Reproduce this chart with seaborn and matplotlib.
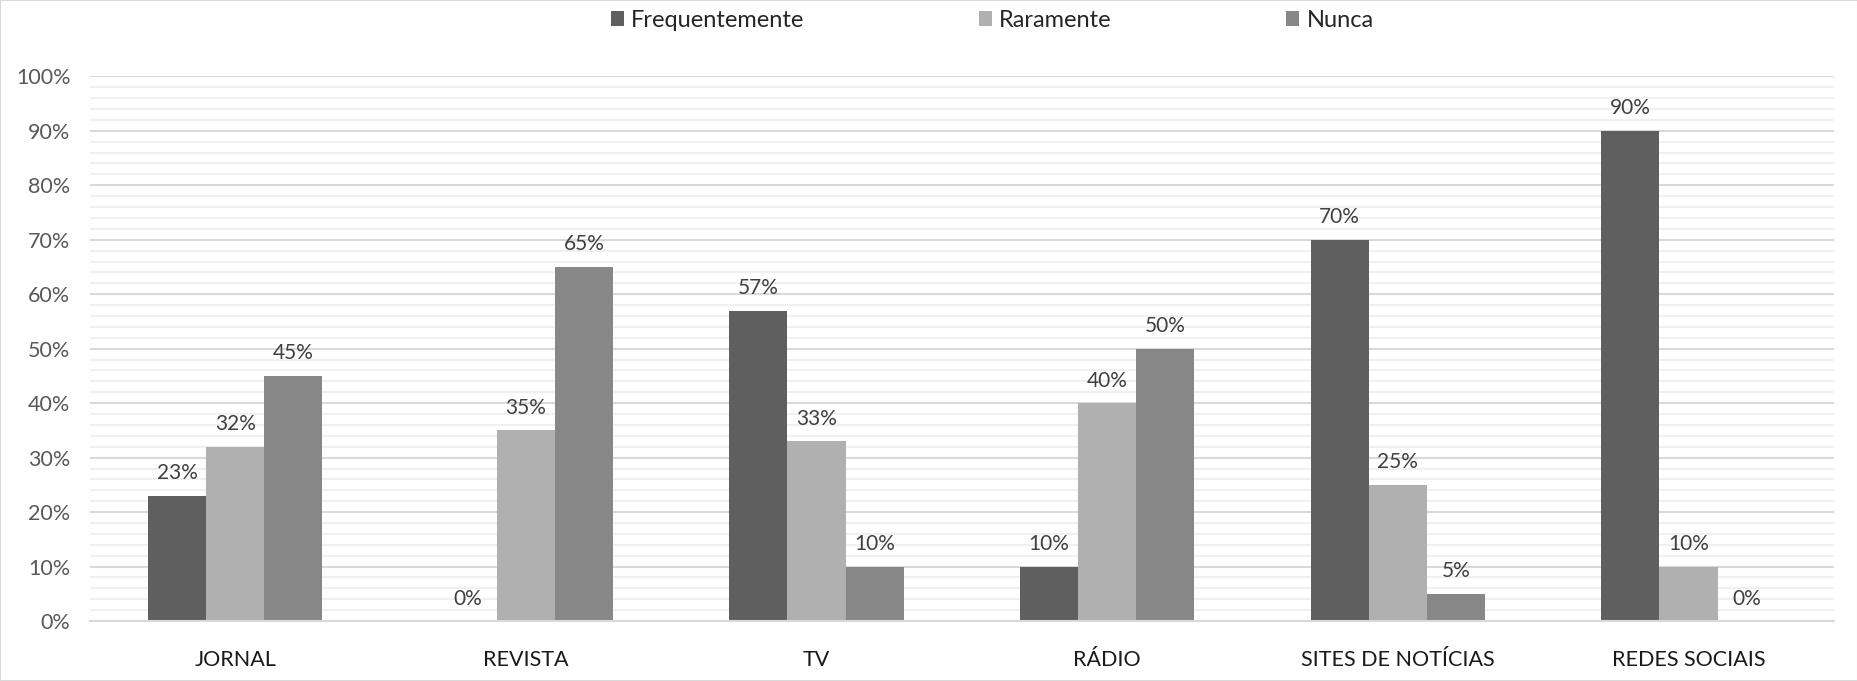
import matplotlib
matplotlib.use("Agg")
import matplotlib.pyplot as plt
from matplotlib.patches import Rectangle
from matplotlib.ticker import MultipleLocator, PercentFormatter
import seaborn as sns
import pandas as pd

categories = ["JORNAL", "REVISTA", "TV", "RÁDIO", "SITES DE NOTÍCIAS", "REDES SOCIAIS"]
series = ["Frequentemente", "Raramente", "Nunca"]
frequentemente = [0.23, 0.00, 0.57, 0.10, 0.70, 0.90]
raramente = [0.32, 0.35, 0.33, 0.40, 0.25, 0.10]
nunca = [0.45, 0.65, 0.10, 0.50, 0.05, 0.00]
colors = ["#5f5f5f", "#b0b0b0", "#878787"]

rows = []
for name, vals in zip(series, [frequentemente, raramente, nunca]):
    for c, v in zip(categories, vals):
        rows.append({"cat": c, "serie": name, "val": v})
df = pd.DataFrame(rows)

sns.set_theme(style="white")
plt.rcParams["font.family"] = ["Lato", "DejaVu Sans"]

fig = plt.figure(figsize=(18.58, 6.81), dpi=100)
ax = fig.add_axes([0.0484, 0.088, 0.9386, 0.800])

sns.barplot(data=df, x="cat", y="val", hue="serie", order=categories,
            hue_order=series, palette=colors, width=0.6, saturation=1,
            edgecolor="none", linewidth=0, ax=ax, legend=False)

for cont in ax.containers:
    ax.bar_label(cont, labels=[f"{v*100:.0f}%" for v in cont.datavalues],
                 padding=9, fontsize=15, color="#404040")

ax.set_ylim(0, 1.0)
ax.set_xlim(-0.5, 5.5)
ax.yaxis.set_major_locator(MultipleLocator(0.1))
ax.yaxis.set_minor_locator(MultipleLocator(0.02))
ax.yaxis.set_major_formatter(PercentFormatter(1.0, decimals=0))
ax.grid(axis="y", which="major", color="#d9d9d9", linewidth=1.5, zorder=0)
ax.grid(axis="y", which="minor", color="#f0f0f0", linewidth=1.5, zorder=0)
ax.set_axisbelow(True)
for s in ["top", "right", "left"]:
    ax.spines[s].set_visible(False)
ax.spines["bottom"].set_color("#d9d9d9")
ax.spines["bottom"].set_linewidth(1.5)
ax.tick_params(axis="y", which="both", length=0, pad=14, labelsize=15.5, labelcolor="#595959")
ax.tick_params(axis="x", length=0, pad=21, labelsize=15.5, labelcolor="#1a1a1a")
ax.set_xlabel("")
ax.set_ylabel("")

handles = [Rectangle((0, 0), 1, 1, facecolor=c, edgecolor="none") for c in colors]
fig.legend(handles, series, loc="center", bbox_to_anchor=(0.534, 0.97), ncol=3,
           frameon=False, fontsize=17, handlelength=0.55, handleheight=0.55,
           handletextpad=0.3, columnspacing=7.4, labelcolor="#262626")

fig.patches.append(Rectangle((0, 0), 1, 1, transform=fig.transFigure, fill=False,
                             edgecolor="#d9d9d9", linewidth=1.5))

fig.savefig("out.png", dpi=100)
